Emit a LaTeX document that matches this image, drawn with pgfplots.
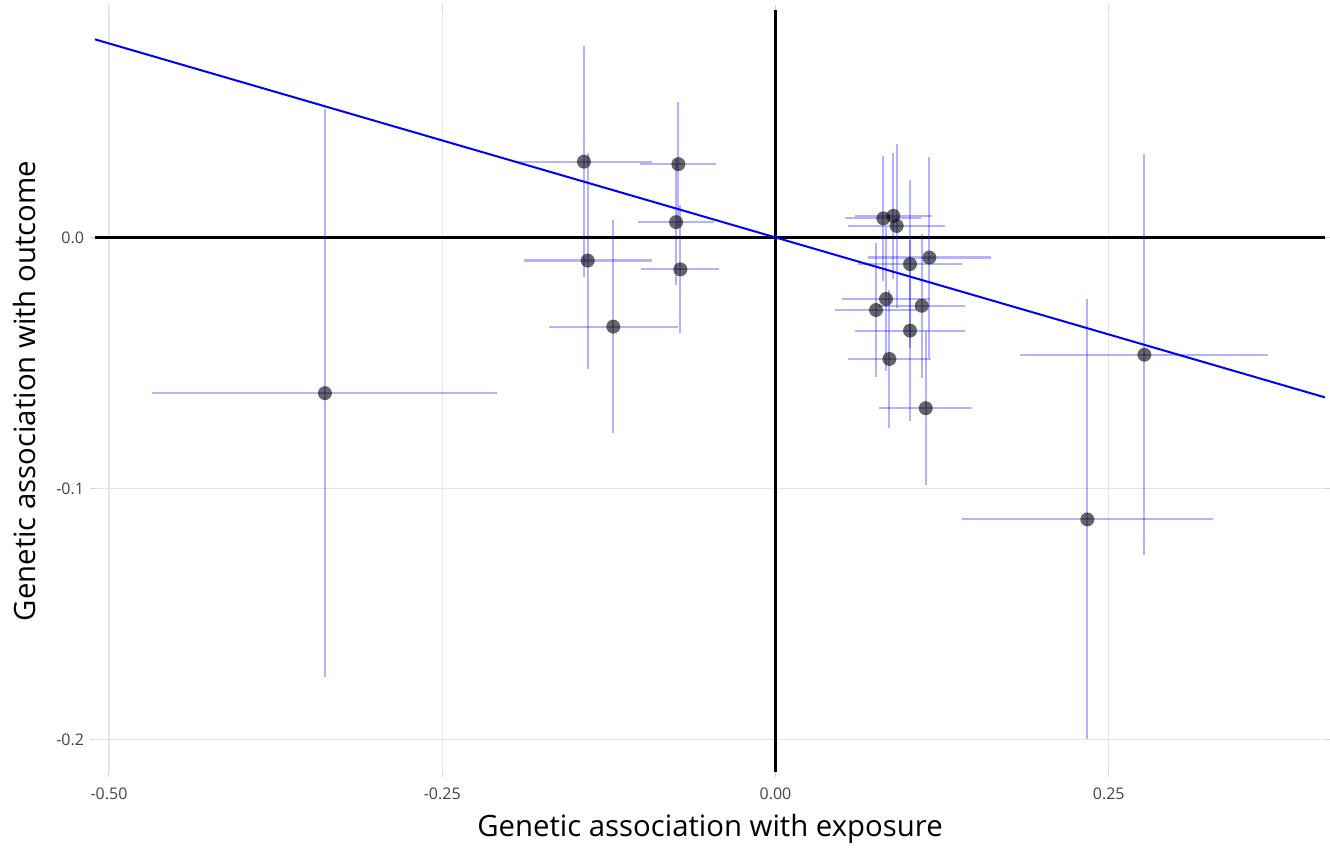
\documentclass[border=0pt]{standalone}
\usepackage{pgfplots}
\pgfplotsset{compat=1.18}
\usepackage{fontspec}
\setmainfont{Open Sans}
\definecolor{ticktxt}{HTML}{444444}
\definecolor{gridc}{HTML}{E6E6E6}
\begin{document}
\begin{tikzpicture}
\begin{axis}[
  scale only axis, width=922.5pt, height=571.5pt,
  xmin=-0.5105, xmax=0.4122, ymin=-0.2129, ymax=0.0906,
  axis line style={draw=none},
  xtick={-0.5,-0.25,0,0.25}, ytick={-0.2,-0.1,0},
  xticklabels={-0.50,-0.25,0.00,0.25}, yticklabels={-0.2,-0.1,0.0},
  grid=major, major grid style={color=gridc, line width=0.9pt},
  tick align=outside, major tick length=3.75pt,
  tick style={color=gray!35, line width=0.75pt},
  tick label style={font=\fontsize{12}{14}\selectfont, text=ticktxt},
  xticklabel style={yshift=-5pt},
  yticklabel style={xshift=-1pt},
  label style={font=\fontsize{22}{25}\selectfont},
  xlabel={Genetic association with exposure},
  ylabel={Genetic association with outcome},
  xlabel style={at={(axis description cs:0.5,-0.0748)}, anchor=center},
  ylabel style={at={(axis description cs:-0.0577,0.5)}, anchor=center},
  clip=true,
]
\draw[black, line width=1.6pt] (axis cs:0,-0.2129) -- (axis cs:0,0.0906);
\draw[black, line width=1.6pt] (axis cs:-0.5105,0) -- (axis cs:0.4122,0);
\addplot[only marks, mark=*, mark size=5.25pt,
  mark options={fill=black, draw opacity=0, fill opacity=0.6},
  error bars/.cd, x dir=both, x explicit, y dir=both, y explicit,
  error mark=none,
  error bar style={blue, opacity=0.3, line width=1.6pt}]
table[x=x, y=y, x error=ex, y error=ey] {
x y ex ey
-0.3380 -0.0620 0.1294 0.1131
-0.1437 0.0302 0.0510 0.0460
-0.0729 0.0292 0.0285 0.0249
-0.1409 -0.0092 0.0480 0.0430
-0.0746 0.0061 0.0285 0.0251
-0.0714 -0.0127 0.0293 0.0255
-0.1217 -0.0355 0.0484 0.0425
0.0809 0.0076 0.0285 0.0249
0.0884 0.0086 0.0290 0.0250
0.0909 0.0046 0.0364 0.0326
0.1154 -0.0080 0.0463 0.0402
0.1009 -0.0106 0.0388 0.0335
0.0829 -0.0245 0.0330 0.0287
0.0754 -0.0289 0.0310 0.0267
0.1097 -0.0272 0.0325 0.0286
0.1009 -0.0371 0.0410 0.0360
0.0854 -0.0484 0.0310 0.0274
0.1127 -0.0680 0.0350 0.0306
0.2767 -0.0467 0.0930 0.0798
0.2339 -0.1123 0.0940 0.0876
};
\addplot[blue, line width=1.5pt] coordinates {(-0.5105,0.0789) (0.4122,-0.0637)};
\end{axis}
\pgfresetboundingbox
\path ([shift={(-71.25pt,-57.75pt)}]current axis.south west) rectangle ([shift={(3.75pt,7.5pt)}]current axis.north east);
\end{tikzpicture}
\end{document}
